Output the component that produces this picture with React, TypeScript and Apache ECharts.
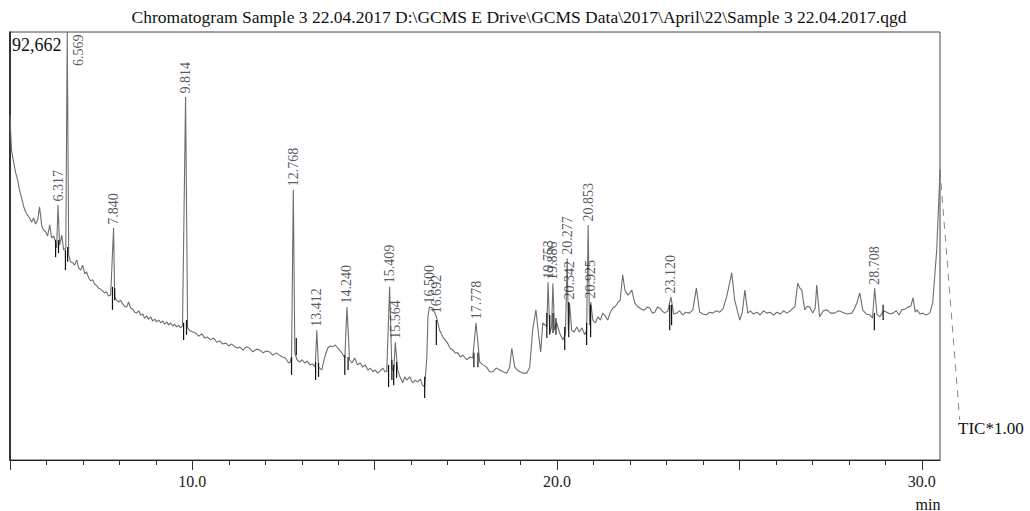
import React, { useEffect, useRef } from "react";
import * as echarts from "echarts";

const TITLE = "Chromatogram Sample 3 22.04.2017 D:\\GCMS E Drive\\GCMS Data\\2017\\April\\22\\Sample 3 22.04.2017.qgd";
const MAX_INTENSITY = 92662;
const X_MIN = 5;
const X_MAX = 30.5;
const MAJOR_TICKS = [5, 10, 15, 20, 25, 30];
const LABEL_TICKS = [10, 20, 30];
const MINOR_TICKS = [6, 7, 8, 9, 11, 12, 13, 14, 16, 17, 18, 19, 21, 22, 23, 24, 26, 27, 28, 29];

// TIC trace: [retention time (min), intensity]
const tic: [number, number][] = [
  [5.0, 74700], [5.04, 67100], [5.1, 64500], [5.15, 62400], [5.21, 60600], [5.26, 58500],
  [5.32, 56700], [5.37, 55000], [5.43, 53700], [5.48, 53000], [5.54, 52400], [5.59, 51500],
  [5.65, 52400], [5.7, 51100], [5.76, 52000], [5.81, 54800], [5.87, 50700], [5.92, 49800],
  [5.98, 49400], [6.03, 48500], [6.09, 50900], [6.14, 48100], [6.2, 48500], [6.25, 47200],
  [6.28, 45900], [6.317, 55200], [6.36, 46500], [6.42, 48700], [6.47, 45500], [6.53, 45900],
  [6.569, 92662], [6.61, 44400], [6.66, 42900], [6.72, 42700], [6.77, 42200], [6.83, 43300],
  [6.88, 41600], [6.94, 41100], [6.99, 42200], [7.05, 40300], [7.1, 40700], [7.16, 39400],
  [7.21, 38800], [7.27, 39000], [7.32, 38100], [7.38, 37700], [7.43, 37200], [7.48, 37000],
  [7.54, 36600], [7.59, 36200], [7.65, 36400], [7.7, 35500], [7.76, 35700], [7.84, 50200],
  [7.87, 35300], [7.92, 34600], [7.98, 34200], [8.03, 34600], [8.09, 33800], [8.14, 33300],
  [8.2, 33100], [8.25, 34200], [8.31, 32900], [8.36, 32700], [8.42, 32000], [8.47, 31800],
  [8.53, 32300], [8.58, 31400], [8.64, 31600], [8.69, 30700], [8.75, 31200], [8.8, 30500],
  [8.86, 31000], [8.91, 30100], [8.97, 30500], [9.02, 29900], [9.08, 30300], [9.13, 29700],
  [9.19, 30100], [9.24, 29400], [9.3, 29900], [9.35, 29200], [9.4, 29700], [9.46, 29000],
  [9.51, 29400], [9.57, 28800], [9.62, 29200], [9.68, 28600], [9.73, 29000], [9.814, 78600],
  [9.87, 28600], [9.92, 28100], [10.01, 27700], [10.09, 27500], [10.17, 26800], [10.26, 27300],
  [10.34, 26400], [10.42, 26600], [10.5, 26000], [10.58, 26400], [10.67, 25500], [10.75, 25800],
  [10.83, 25100], [10.92, 25300], [11.0, 24700], [11.08, 25100], [11.17, 24500], [11.25, 24200],
  [11.3, 24500], [11.39, 23800], [11.48, 24500], [11.57, 24200], [11.66, 23400], [11.76, 24000],
  [11.85, 23800], [11.94, 23200], [12.03, 23600], [12.12, 23400], [12.21, 22700], [12.3, 23200],
  [12.39, 22700], [12.47, 22300], [12.55, 22100], [12.62, 21200], [12.67, 21000], [12.72, 22300],
  [12.768, 58500], [12.81, 23200], [12.87, 21700], [12.94, 21200], [13.01, 21700], [13.08, 21000],
  [13.15, 21400], [13.22, 20600], [13.3, 20800], [13.37, 20100], [13.412, 28100], [13.46, 20100],
  [13.55, 19500], [13.63, 22300], [13.71, 24200], [13.78, 24700], [13.85, 24500], [13.92, 24900],
  [13.99, 24200], [14.1, 23200], [14.18, 22100], [14.24, 33100], [14.31, 21700], [14.38, 21000],
  [14.45, 22100], [14.53, 20600], [14.6, 21000], [14.67, 20100], [14.74, 20600], [14.81, 19500],
  [14.88, 19900], [14.95, 19100], [15.01, 19500], [15.08, 18800], [15.15, 19300], [15.22, 19900],
  [15.28, 19100], [15.33, 19100], [15.409, 37500], [15.47, 19900], [15.52, 19100], [15.564, 25500],
  [15.63, 19500], [15.69, 18000], [15.77, 16700], [15.82, 18000], [15.88, 17300], [15.96, 18000],
  [16.04, 16700], [16.11, 17300], [16.18, 16900], [16.25, 17500], [16.31, 16200], [16.37, 15800],
  [16.43, 22300], [16.46, 31000], [16.5, 33100], [16.59, 32900], [16.692, 31000], [16.78, 28100],
  [16.87, 26600], [17.0, 25300], [17.07, 24200], [17.14, 23800], [17.21, 23200], [17.28, 23200],
  [17.35, 22300], [17.42, 22700], [17.52, 21700], [17.61, 22300], [17.69, 22100], [17.778, 29700],
  [17.88, 21200], [17.97, 20600], [18.07, 20100], [18.15, 19100], [18.24, 19100], [18.33, 19900],
  [18.43, 19500], [18.52, 19100], [18.62, 18800], [18.7, 20100], [18.76, 24200], [18.84, 20100],
  [18.91, 19500], [18.98, 19100], [19.08, 18800], [19.17, 18800], [19.25, 20100], [19.33, 28100],
  [19.42, 32500], [19.47, 28800], [19.55, 23400], [19.61, 29700], [19.72, 28800], [19.753, 38500],
  [19.8, 27500], [19.85, 28800], [19.886, 38200], [19.93, 28100], [19.99, 29700], [20.07, 27500],
  [20.16, 26000], [20.23, 27300], [20.277, 43700], [20.31, 28100], [20.342, 34000], [20.4, 28100],
  [20.47, 27700], [20.54, 28800], [20.61, 27700], [20.68, 28600], [20.76, 27100], [20.81, 28100],
  [20.853, 50900], [20.89, 29200], [20.925, 34200], [20.98, 30300], [21.05, 29700], [21.12, 31000],
  [21.19, 30300], [21.25, 31800], [21.32, 31200], [21.39, 30300], [21.46, 32000], [21.53, 32900],
  [21.6, 33300], [21.66, 34000], [21.73, 34600], [21.8, 40100], [21.86, 36800], [21.94, 35700],
  [22.0, 36200], [22.05, 36800], [22.13, 34000], [22.2, 33300], [22.27, 32900], [22.34, 32500],
  [22.4, 32500], [22.47, 33100], [22.54, 32900], [22.61, 31800], [22.68, 32000], [22.75, 33100],
  [22.82, 32900], [22.88, 32300], [22.95, 31800], [23.04, 32300], [23.12, 35300], [23.2, 31600],
  [23.28, 31800], [23.36, 32300], [23.44, 31400], [23.53, 32000], [23.63, 31800], [23.72, 32500],
  [23.82, 37200], [23.91, 32000], [24.0, 31600], [24.1, 31400], [24.18, 32000], [24.27, 31800],
  [24.36, 32300], [24.46, 32000], [24.55, 32700], [24.65, 35300], [24.79, 40500], [24.87, 34600],
  [25.01, 30300], [25.08, 32000], [25.15, 36800], [25.23, 31800], [25.3, 32300], [25.38, 31600],
  [25.48, 32000], [25.57, 31400], [25.66, 32300], [25.75, 31800], [25.84, 32000], [25.93, 31400],
  [26.03, 32000], [26.12, 31600], [26.21, 32300], [26.3, 31800], [26.4, 32300], [26.47, 32900],
  [26.52, 33100], [26.6, 38300], [26.66, 37200], [26.71, 36800], [26.79, 32500], [26.86, 33300],
  [26.93, 33100], [27.01, 31800], [27.08, 32900], [27.12, 37900], [27.2, 31000], [27.3, 32300],
  [27.4, 32500], [27.5, 31800], [27.61, 31800], [27.72, 32300], [27.83, 32000], [27.95, 31600],
  [28.08, 31800], [28.15, 32700], [28.22, 34000], [28.3, 36200], [28.38, 32500], [28.48, 31600],
  [28.58, 31400], [28.65, 30700], [28.708, 37200], [28.77, 31600], [28.85, 31000], [28.95, 32300],
  [29.04, 32000], [29.13, 31600], [29.21, 31800], [29.3, 32300], [29.38, 31400], [29.45, 32500],
  [29.54, 32700], [29.62, 33100], [29.7, 33300], [29.76, 35100], [29.82, 32000], [29.87, 32500],
  [29.95, 31600], [30.03, 31800], [30.12, 31400], [30.22, 31800], [30.3, 34000], [30.41, 45500],
  [30.5, 62800],
];

// signal continuing past the displayed time range (drawn dashed)
const ticOutside: [number, number][] = [[30.5, 62800], [31.04, 8700]];

const peakTimes = [6.317, 6.569, 7.84, 9.814, 12.768, 13.412, 14.24, 15.409, 15.564, 16.5, 16.692, 17.778, 19.753, 19.886, 20.277, 20.342, 20.853, 20.925, 23.12, 28.708];
const peakIntensities = [55200, 92662, 50200, 78600, 58500, 28100, 33100, 37500, 25500, 33100, 31000, 29700, 38500, 38200, 43700, 34000, 50900, 34200, 35300, 37200];
const peakLabels = ["6.317", "6.569", "7.840", "9.814", "12.768", "13.412", "14.240", "15.409", "15.564", "16.500", "16.692", "17.778", "19.753", "19.886", "20.277", "20.342", "20.853", "20.925", "23.120", "28.708"];

// integration markers: time, low intensity, high intensity
const markerTimes = [6.25, 6.33, 6.52, 6.58, 7.81, 7.87, 9.76, 9.84, 12.72, 12.85, 13.38, 13.46, 14.18, 14.27, 15.38, 15.47, 15.52, 15.6, 16.37, 16.69, 17.72, 17.83, 19.72, 19.8, 19.89, 19.97, 20.21, 20.32, 20.81, 20.92, 23.09, 23.14, 28.7, 28.94];
const markerLow = [43900, 44800, 41100, 42900, 32500, 34600, 26000, 27100, 18400, 22700, 17300, 18000, 18400, 19500, 15800, 17300, 16200, 17800, 13400, 24900, 20100, 20100, 26400, 27100, 27500, 27100, 23800, 26600, 24900, 26600, 28100, 29200, 28100, 30300];
const markerHigh = [47600, 47600, 45500, 46100, 37500, 37200, 29700, 30300, 22300, 26400, 21200, 21000, 22700, 22300, 20600, 21700, 20600, 21200, 18000, 30300, 23200, 23200, 31800, 31400, 31800, 30700, 28800, 34200, 29700, 33600, 33600, 33600, 31800, 33600];

const SERIF = "'Liberation Serif', 'Times New Roman', serif";

export default function App() {
  const ref = useRef<HTMLDivElement>(null);
  useEffect(() => {
    if (!ref.current) return;
    const chart = echarts.init(ref.current, undefined, { renderer: "svg" });
    const peakData = peakTimes.map((t, i) => {
      const item: any = { name: peakLabels[i], value: [t, peakIntensities[i]] };
      if (peakLabels[i] === "6.569") {
        item.label = { position: [12, 3], align: "right", verticalAlign: "middle" };
      }
      return item;
    });
    const markerData = markerTimes.map((t, i) => [t, markerLow[i], markerHigh[i]]);
    chart.setOption({
      animation: false,
      backgroundColor: "#ffffff",
      grid: {
        left: 10, top: 32, width: 930, height: 428,
        show: true, borderColor: "#444", borderWidth: 1, backgroundColor: "transparent",
      },
      xAxis: [
        {
          type: "value", min: X_MIN, max: X_MAX, position: "bottom",
          axisLine: { show: true, lineStyle: { color: "#222", width: 1.2 } },
          axisTick: { show: true, length: 10, customValues: MAJOR_TICKS, lineStyle: { color: "#333" } },
          axisLabel: {
            show: true, customValues: LABEL_TICKS, margin: 13,
            formatter: (v: number) => v.toFixed(1),
            fontFamily: SERIF, fontSize: 16, color: "#222",
          },
          splitLine: { show: false },
        },
        {
          type: "value", min: X_MIN, max: X_MAX, position: "bottom",
          axisLine: { show: false },
          axisTick: { show: true, length: 5, customValues: MINOR_TICKS, lineStyle: { color: "#333" } },
          axisLabel: { show: false },
          splitLine: { show: false },
        },
      ],
      yAxis: {
        type: "value", min: 0, max: MAX_INTENSITY,
        axisLine: { show: true, lineStyle: { color: "#111", width: 1.5 } },
        axisTick: { show: false }, axisLabel: { show: false }, splitLine: { show: false },
      },
      series: [
        {
          type: "line", xAxisIndex: 0, data: tic, showSymbol: false, symbol: "none",
          lineStyle: { color: "#6e6e6e", width: 1.1 }, z: 2,
        },
        {
          type: "custom", xAxisIndex: 0, data: ticOutside, clip: false, z: 2,
          renderItem: (params: any, api: any) => {
            if (params.dataIndex !== 0) return null;
            const pts = ticOutside.map((d) => api.coord(d));
            return {
              type: "polyline",
              shape: { points: pts },
              style: { stroke: "#8a8a8a", lineWidth: 1, lineDash: [7, 6], fill: null },
            };
          },
        },
        {
          type: "custom", xAxisIndex: 0, data: markerData, clip: false, z: 3,
          renderItem: (params: any, api: any) => {
            const t = api.value(0);
            const p1 = api.coord([t, api.value(1)]);
            const p2 = api.coord([t, api.value(2)]);
            return {
              type: "line",
              shape: { x1: p1[0], y1: p1[1], x2: p2[0], y2: p2[1] },
              style: { stroke: "#111", lineWidth: 1.2 },
            };
          },
        },
        {
          type: "scatter", xAxisIndex: 0, data: peakData, symbolSize: 1, clip: false,
          itemStyle: { color: "rgba(0,0,0,0)" }, z: 4,
          label: {
            show: true, position: "top", distance: 3, rotate: 90,
            align: "left", verticalAlign: "middle",
            formatter: (p: any) => p.name,
            fontFamily: SERIF, fontSize: 14, color: "#2b2b35",
          },
        },
      ],
      graphic: [
        { type: "text", x: 519, y: 17, style: { text: TITLE, fontFamily: SERIF, fontSize: 17.5, fill: "#111", textAlign: "center", textVerticalAlign: "middle" } },
        { type: "text", x: 12, y: 45, style: { text: "92,662", fontFamily: SERIF, fontSize: 18, fill: "#111", textAlign: "left", textVerticalAlign: "middle" } },
        { type: "text", x: 958, y: 428, style: { text: "TIC*1.00", fontFamily: SERIF, fontSize: 17, fill: "#111", textAlign: "left", textVerticalAlign: "middle" } },
        { type: "text", x: 928, y: 504, style: { text: "min", fontFamily: SERIF, fontSize: 16, fill: "#111", textAlign: "center", textVerticalAlign: "middle" } },
      ],
    });
    return () => chart.dispose();
  }, []);
  return <div ref={ref} style={{ position: "fixed", left: 0, top: 0, width: 1030, height: 511 }} />;
}
